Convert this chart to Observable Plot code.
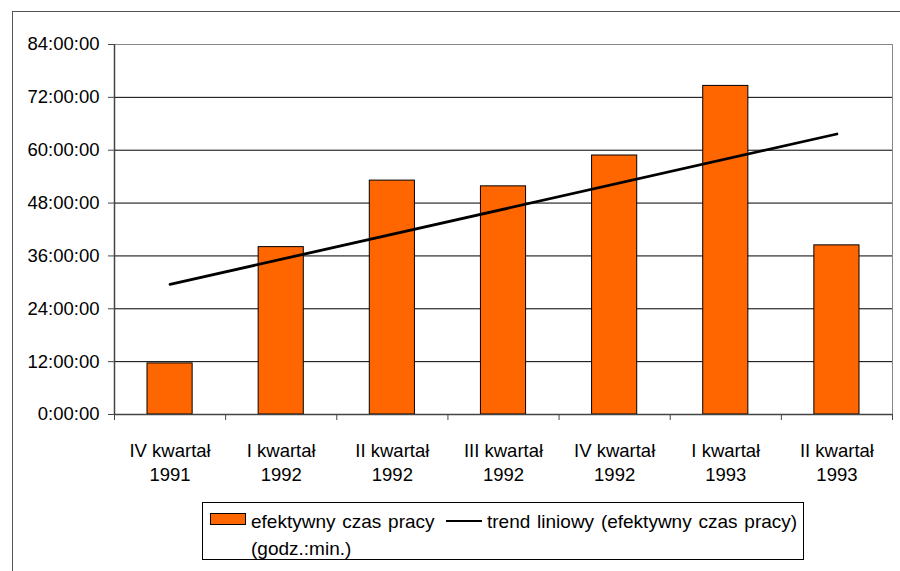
<!DOCTYPE html>
<html>
<head>
<meta charset="utf-8">
<script src="https://cdn.jsdelivr.net/npm/d3@7"></script>
<script src="https://cdn.jsdelivr.net/npm/@observablehq/plot@0.6"></script>
<style>
  html, body { margin: 0; padding: 0; background: #fff; width: 900px; height: 571px; overflow: hidden; }
  body { position: relative; font-family: "Liberation Sans", Arial, sans-serif; }
  #frame { position: absolute; left: 12px; top: 11px; width: 920px; height: 620px; border: 1px solid #555; box-sizing: border-box; }
  #chart { position: absolute; left: 0; top: 0; }
  #legend { position: absolute; left: 202px; top: 502px; width: 602px; height: 58px; border: 1px solid #000; box-sizing: border-box; background: #fff; font-size: 19px; word-spacing: 1.5px; color: #000; }
  #legend .sw { position: absolute; left: 7px; top: 10px; width: 34px; height: 10px; background: #FF6600; border: 1px solid #000; }
  #legend .ln { position: absolute; left: 243px; top: 17px; width: 36px; height: 0; border-top: 2.5px solid #000; }
  #legend .t { position: absolute; white-space: nowrap; line-height: 1; }
</style>
</head>
<body>
<div id="frame"></div>
<div id="chart"></div>
<div id="legend">
  <div class="sw"></div>
  <div class="t" id="l1" style="left:48px; top:9px;"></div>
  <div class="ln"></div>
  <div class="t" id="l2" style="left:284px; top:9px;"></div>
  <div class="t" id="l3" style="left:48px; top:36px;"></div>
</div>
<script>
// Categories (quarters)
const categories = ["IV kwartał\n1991", "I kwartał\n1992", "II kwartał\n1992", "III kwartał\n1992", "IV kwartał\n1992", "I kwartał\n1993", "II kwartał\n1993"];
// Effective working time, in hours
const hoursValues = [11.6, 38.0, 53.1, 51.8, 58.8, 74.6, 38.4];
// Y tick values (hours)
const yTicks = [0, 12, 24, 36, 48, 60, 72, 84];
const seriesName = "efektywny czas pracy";
const trendName = "trend liniowy (efektywny czas pracy)";
const unitNote = "(godz.:min.)";

document.getElementById("l1").textContent = seriesName;
document.getElementById("l2").textContent = trendName;
document.getElementById("l3").textContent = unitNote;

const data = categories.map((c, i) => ({i, cat: c, v: hoursValues[i]}));

// linear trend (least squares over category index), like the spreadsheet's trendline
const n = data.length;
const mx = d3.mean(data, d => d.i), my = d3.mean(data, d => d.v);
const slope = d3.sum(data, d => (d.i - mx) * (d.v - my)) / d3.sum(data, d => (d.i - mx) ** 2);
const intercept = my - slope * mx;
const trend = [data[0], data[n - 1]].map(d => ({x: d.i + 0.5, y: intercept + slope * d.i}));

const fs = 18.5;
const chart = Plot.plot({
  width: 900,
  height: 490,
  marginLeft: 114,
  marginRight: 8,
  marginTop: 44,
  marginBottom: 76,
  style: {fontFamily: '"Liberation Sans", Arial, sans-serif', fontSize: fs + "px", color: "#000", background: "transparent"},
  x: {type: "linear", domain: [0, n]},
  y: {domain: [0, 84]},
  marks: [
    Plot.frame({stroke: "#888", strokeWidth: 1}),
    Plot.gridY(yTicks.slice(1, -1), {stroke: "#000", strokeOpacity: 1, strokeWidth: 1}),
    Plot.rectY(data, {x1: d => d.i, x2: d => d.i + 1, y1: 0, y2: "v", insetLeft: 33, insetRight: 33, fill: "#FF6600", stroke: "#000", strokeWidth: 1}),
    Plot.line(trend, {x: "x", y: "y", stroke: "#000", strokeWidth: 2.8}),
    Plot.axisY({ticks: yTicks, tickFormat: d => `${d}:00:00`, tickSize: 6, tickPadding: 9, label: null, fontSize: fs, stroke: "#444"}),
    Plot.axisX({ticks: d3.range(0, n + 1), tickFormat: () => "", tickSize: 6, label: null, stroke: "#444"}),
    Plot.ruleX([0], {stroke: "#444", strokeWidth: 1.5}),
    Plot.ruleY([0], {stroke: "#444", strokeWidth: 1.5}),
    Plot.text(data, {x: d => d.i + 0.5, y: 0, text: "cat", lineAnchor: "top", dy: 25, lineHeight: 1.3, fontSize: fs, fill: "#000"})
  ]
});
document.getElementById("chart").appendChild(chart);
</script>
</body>
</html>
